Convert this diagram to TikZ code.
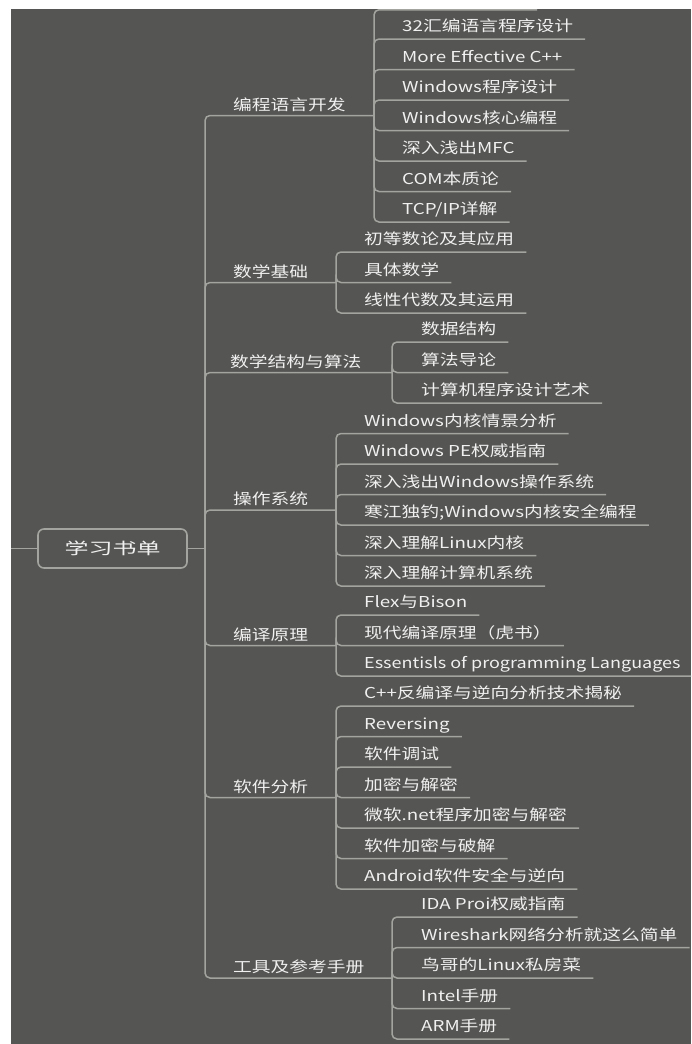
\documentclass[tikz,border=0pt]{standalone}
\usepackage{fontspec}
\setmainfont[FakeStretch=1.25]{Noto Sans CJK SC}
\newfontfamily\rootfont[FakeStretch=1.5]{Noto Sans CJK SC}
\newfontfamily\longfont[FakeStretch=1.2]{Noto Sans CJK SC}
\definecolor{bg}{HTML}{555653}
\definecolor{edge}{HTML}{A3A39F}
\definecolor{txt}{HTML}{F0F0F0}
\tikzset{
  branch/.style={draw=edge, line width=1.5pt, rounded corners=5pt},
  rootbox/.style={draw=edge, line width=1.6pt, rounded corners=6pt, minimum width=149pt,
    minimum height=39pt, inner sep=0pt, text=txt, font=\rootfont\fontsize{16}{16}\selectfont},
  topic/.style={anchor=base west, inner sep=0pt, text=txt},
  book/.style={anchor=base west, inner sep=0pt, text=txt}
}
\begin{document}
\begin{tikzpicture}[x=1pt, y=-1pt, font=\fontsize{15}{18}\selectfont]
    \useasboundingbox (0,0) rectangle (691,1044);
    \fill[white] (0,0) rectangle (691,1044);
    \fill[bg] (11,9) rectangle (691,1044);
    \clip (11,9) rectangle (691,1044);
    % root
    \node[rootbox] (root) at (112.5,548.5) {学习书单};
    \coordinate (lend) at (11,548.5);
    \coordinate (hub) at (205,548.5);
    \draw[branch] (lend) -- (root.west);
    \draw[branch] (root.east) -- (hub);
    % main branches
    \coordinate (b1) at (374,115.5);
    \coordinate (b2) at (336,282.5);
    \coordinate (b3) at (392,372.5);
    \coordinate (b4) at (336,510);
    \coordinate (b5) at (336,645.5);
    \coordinate (b6) at (336,797.5);
    \coordinate (b7) at (392,978);
    \draw[branch] (hub) |- (b1);
    \draw[branch] (hub) |- (b2);
    \draw[branch] (hub) |- (b3);
    \draw[branch] (hub) |- (b4);
    \draw[branch] (hub) |- (b5);
    \draw[branch] (hub) |- (b6);
    \draw[branch] (hub) |- (b7);
    \node[topic] (t1) at (233,110) {编程语言开发};
    \node[topic] (t2) at (233,277) {数学基础};
    \node[topic] (t3) at (230,367) {数学结构与算法};
    \node[topic] (t4) at (233,504.5) {操作系统};
    \node[topic] (t5) at (233,640) {编译原理};
    \node[topic] (t6) at (233,792) {软件分析};
    \node[topic] (t7) at (233,972.5) {工具及参考手册};
    % 编程语言开发
    \coordinate (p0) at (537,9.8);
    \node[book] (p1) at (402,31.5) {32汇编语言程序设计};
    \node[book] (p2) at (402,62) {More Effective C++};
    \node[book] (p3) at (402,92.5) {Windows程序设计};
    \node[book] (p4) at (402,123) {Windows核心编程};
    \node[book] (p5) at (402,153.5) {深入浅出MFC};
    \node[book] (p6) at (402,184) {COM本质论};
    \node[book] (p7) at (402,214.5) {TCP/IP详解};
    \draw[branch] (b1) |- (p0);
    \draw[branch] (b1) |- ([shift={(12,7.5)}]p1.base east);
    \draw[branch] (b1) |- ([shift={(12,7.5)}]p2.base east);
    \draw[branch] (b1) |- ([shift={(12,7.5)}]p3.base east);
    \draw[branch] (b1) |- ([shift={(12,7.5)}]p4.base east);
    \draw[branch] (b1) |- ([shift={(12,7.5)}]p5.base east);
    \draw[branch] (b1) |- ([shift={(12,7.5)}]p6.base east);
    \draw[branch] (b1) |- ([shift={(12,7.5)}]p7.base east);
    % 数学基础
    \node[book] (m1) at (364,244.5) {初等数论及其应用};
    \node[book] (m2) at (364,275) {具体数学};
    \node[book] (m3) at (364,305.5) {线性代数及其运用};
    \draw[branch] (b2) |- ([shift={(12,7.5)}]m1.base east);
    \draw[branch] (b2) |- ([shift={(12,7.5)}]m2.base east);
    \draw[branch] (b2) |- ([shift={(12,7.5)}]m3.base east);
    % 数学结构与算法
    \node[book] (a1) at (421,334.5) {数据结构};
    \node[book] (a2) at (421,365) {算法导论};
    \node[book] (a3) at (421,395.5) {计算机程序设计艺术};
    \draw[branch] (b3) |- ([shift={(12,7.5)}]a1.base east);
    \draw[branch] (b3) |- ([shift={(12,7.5)}]a2.base east);
    \draw[branch] (b3) |- ([shift={(12,7.5)}]a3.base east);
    % 操作系统
    \node[book] (o1) at (364,426) {Windows内核情景分析};
    \node[book] (o2) at (364,456.5) {Windows PE权威指南};
    \node[book] (o3) at (364,487) {深入浅出Windows操作系统};
    \node[book] (o4) at (364,517.5) {寒江独钓;Windows内核安全编程};
    \node[book] (o5) at (364,548) {深入理解Linux内核};
    \node[book] (o6) at (364,578.5) {深入理解计算机系统};
    \draw[branch] (b4) |- ([shift={(12,7.5)}]o1.base east);
    \draw[branch] (b4) |- ([shift={(12,7.5)}]o2.base east);
    \draw[branch] (b4) |- ([shift={(12,7.5)}]o3.base east);
    \draw[branch] (b4) |- ([shift={(12,7.5)}]o4.base east);
    \draw[branch] (b4) |- ([shift={(12,7.5)}]o5.base east);
    \draw[branch] (b4) |- ([shift={(12,7.5)}]o6.base east);
    % 编译原理
    \node[book] (c1) at (364,607.5) {Flex与Bison};
    \node[book] (c2) at (364,638) {现代编译原理（虎书）};
    \node[book, font=\longfont\fontsize{15}{18}\selectfont] (c3) at (364,668.5) {Essentisls of programming Languages};
    \draw[branch] (b5) |- ([shift={(12,7.5)}]c1.base east);
    \draw[branch] (b5) |- ([shift={(12,7.5)}]c2.base east);
    \draw[branch] (b5) |- ([shift={(12,7.5)}]c3.base east);
    % 软件分析
    \node[book] (s1) at (364,698.5) {C++反编译与逆向分析技术揭秘};
    \node[book] (s2) at (364,729) {Reversing};
    \node[book] (s3) at (364,759.5) {软件调试};
    \node[book] (s4) at (364,790) {加密与解密};
    \node[book] (s5) at (364,820.5) {微软.net程序加密与解密};
    \node[book] (s6) at (364,851) {软件加密与破解};
    \node[book] (s7) at (364,881.5) {Android软件安全与逆向};
    \draw[branch] (b6) |- ([shift={(12,7.5)}]s1.base east);
    \draw[branch] (b6) |- ([shift={(12,7.5)}]s2.base east);
    \draw[branch] (b6) |- ([shift={(12,7.5)}]s3.base east);
    \draw[branch] (b6) |- ([shift={(12,7.5)}]s4.base east);
    \draw[branch] (b6) |- ([shift={(12,7.5)}]s5.base east);
    \draw[branch] (b6) |- ([shift={(12,7.5)}]s6.base east);
    \draw[branch] (b6) |- ([shift={(12,7.5)}]s7.base east);
    % 工具及参考手册
    \node[book] (r1) at (421,909.5) {IDA Proi权威指南};
    \node[book] (r2) at (421,940) {Wireshark网络分析就这么简单};
    \node[book] (r3) at (421,970.5) {鸟哥的Linux私房菜};
    \node[book] (r4) at (421,1001) {Intel手册};
    \node[book] (r5) at (421,1031.5) {ARM手册};
    \draw[branch] (b7) |- ([shift={(12,7.5)}]r1.base east);
    \draw[branch] (b7) |- ([shift={(12,7.5)}]r2.base east);
    \draw[branch] (b7) |- ([shift={(12,7.5)}]r3.base east);
    \draw[branch] (b7) |- ([shift={(12,7.5)}]r4.base east);
    \draw[branch] (b7) |- ([shift={(12,7.5)}]r5.base east);
\end{tikzpicture}
\end{document}
